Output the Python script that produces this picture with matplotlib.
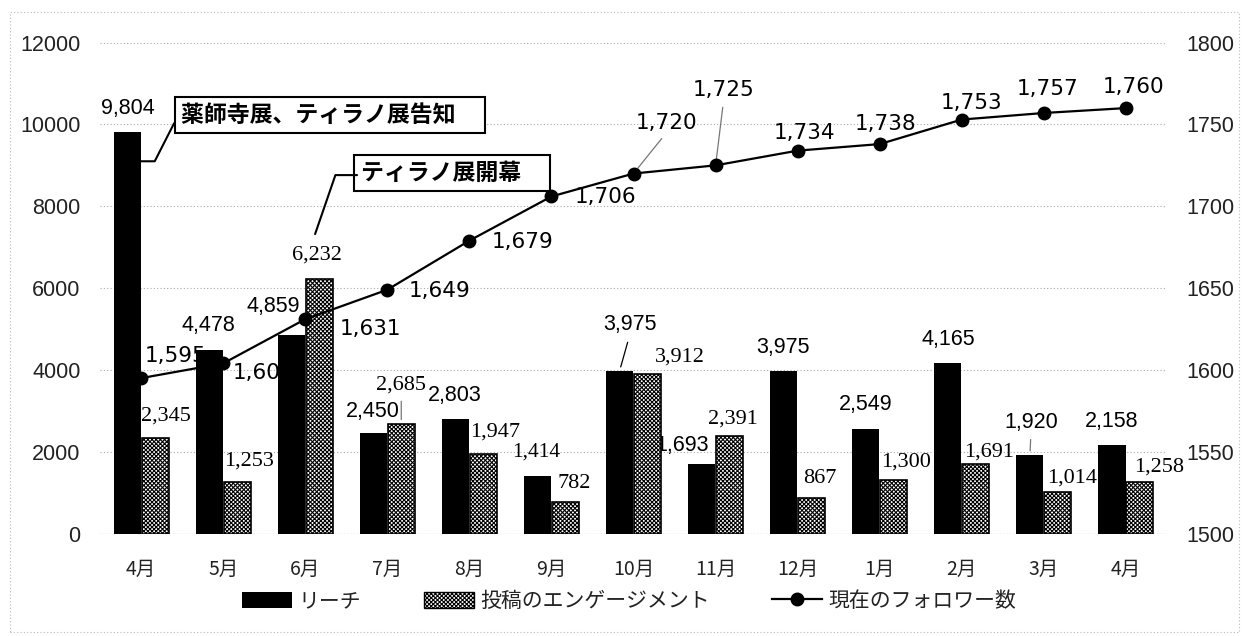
import numpy as np
import matplotlib
matplotlib.use('Agg')
import matplotlib.pyplot as plt
from matplotlib.patches import Patch, Rectangle
from matplotlib.lines import Line2D

plt.rcParams['font.family'] = ['Noto Sans CJK JP', 'DejaVu Sans']
plt.rcParams['hatch.linewidth'] = 0.8

# monthly figures (April to April)
months = ['4月', '5月', '6月', '7月', '8月', '9月', '10月', '11月', '12月',
          '1月', '2月', '3月', '4月']
reach = [9804, 4478, 4859, 2450, 2803, 1414, 3975, 1693, 3975, 2549, 4165, 1920, 2158]
engagement = [2345, 1253, 6232, 2685, 1947, 782, 3912, 2391, 867, 1300, 1691, 1014, 1258]
followers = [1595, 1604, 1631, 1649, 1679, 1706, 1720, 1725, 1734, 1738, 1753, 1757, 1760]

series_names = ['リーチ', '投稿のエンゲージメント', '現在のフォロワー数']
callouts = ['薬師寺展、ティラノ展告知\u3000', 'ティラノ展開幕\u3000']

# label offsets in pixels (dx, dy) from the top of each bar / each point
reach_off = [(1, 24), (-1, 25), (-18, 28), (-1, 22), (-1, 23), (-1, 24), (10, 46),
             (-20, 19), (-1, 23), (0, 25), (0, 24), (1, 33), (0, 24)]
eng_off = [(11, 22), (12, 21), (-2, 24), (0, 39), (12, 22), (9, 18), (32, 16),
           (3, 17), (8, 20), (12, 18), (13, 12), (14, 14), (19, 15)]
fol_off = [(34, 22), (40, -10), (65, -10), (52, -1), (53, -1), (54, -1), (33, 51),
           (8, 75), (7, 18), (6, 20), (10, 17), (4, 24), (8, 21)]
reach_leader = {6: 'black', 11: '#777777'}
eng_leader = {3: '#777777'}
fol_leader = {6: '#777777', 7: '#777777'}

HATCH = 'xxxxxxxx'
W = 0.33
SHIFT = 0.17

fig = plt.figure(figsize=(12.46, 6.36), dpi=100)
ax = fig.add_axes([0.0803, 0.161, 0.8563, 0.772])
ax2 = ax.twinx()

x = np.arange(len(months))
ax.bar(x - SHIFT, reach, W, color='black', zorder=2)
ax.bar(x + SHIFT, engagement, W, facecolor='white', edgecolor='black',
       hatch=HATCH, linewidth=1.2, zorder=2)
ax2.plot(x, followers, color='black', lw=1.6, marker='o', ms=9, zorder=3)

ax.set_xlim(-0.5, len(months) - 0.5)
ax.set_ylim(0, 12000)
ax2.set_ylim(1500, 1800)
ax.set_yticks(np.arange(0, 12001, 2000))
ax2.set_yticks(np.arange(1500, 1801, 50))
ax.set_xticks(x, months)

for a in (ax, ax2):
    for s in a.spines.values():
        s.set_visible(False)
ax.tick_params(axis='x', length=0, pad=18, labelsize=14, colors='#222222')
ax.tick_params(axis='y', length=0, pad=14, labelsize=15.5, colors='#222222',
               labelfontfamily='Liberation Sans')
ax2.tick_params(axis='y', length=0, pad=14, labelsize=15.5, colors='#222222',
                labelfontfamily='Liberation Sans')

ax.set_axisbelow(True)
ax.yaxis.grid(True, color='#aaaaaa', linestyle=(0, (1, 2)), lw=0.8)
ax.axhline(0, color='#999999', linestyle=(0, (1, 1.5)), lw=0.9, zorder=0.6)


def label(xv, yv, text, off, family, size, leader=None, xycoords='data'):
    arrow = None
    if leader:
        arrow = dict(arrowstyle='-', color=leader, lw=0.9,
                     relpos=(0.5, 0.0), shrinkA=3, shrinkB=3)
    ax.annotate(text, xy=(xv, yv), xycoords=xycoords, xytext=off,
                textcoords='offset pixels', ha='center', va='center',
                fontfamily=family, fontsize=size, color='black',
                arrowprops=arrow, zorder=1)


for i, v in enumerate(reach):
    fam = 'Liberation Serif' if i == 5 else 'Liberation Sans'
    label(i - SHIFT, v, f'{v:,}', reach_off[i], fam, 15.5, reach_leader.get(i))

for i, v in enumerate(engagement):
    label(i + SHIFT, v, f'{v:,}', eng_off[i], 'Liberation Serif', 16,
          eng_leader.get(i))

for i, v in enumerate(followers):
    label(i, v, f'{v:,}', fol_off[i], 'DejaVu Sans', 15.5, fol_leader.get(i),
          xycoords=ax2.transData)

# event callouts
box = dict(boxstyle='square,pad=0.28', facecolor='white', edgecolor='black', lw=1.5)
ax2.annotate(callouts[0], xy=(0.0, 9100), xycoords=ax.transData, xytext=(189, 46),
             textcoords='offset pixels', ha='center', va='center', fontsize=16.5,
             fontweight='bold', bbox=box, zorder=5)
ax2.annotate('', xy=(0.0, 9100), xycoords=ax.transData, xytext=(33, 38),
             textcoords='offset pixels', zorder=5,
             arrowprops=dict(arrowstyle='-', lw=1.5, color='black', shrinkA=0,
                             shrinkB=0, connectionstyle='angle,angleA=63,angleB=0'))
ax2.annotate(callouts[1], xy=(2.12, 7320), xycoords=ax.transData, xytext=(137, 61),
             textcoords='offset pixels', ha='center', va='center', fontsize=16.5,
             fontweight='bold', bbox=box, zorder=5)
ax2.annotate('', xy=(2.12, 7320), xycoords=ax.transData, xytext=(42, 59),
             textcoords='offset pixels', zorder=5,
             arrowprops=dict(arrowstyle='-', lw=1.5, color='black', shrinkA=0,
                             shrinkB=0, connectionstyle='angle,angleA=0,angleB=71'))

handles = [
    Patch(facecolor='black'),
    Patch(facecolor='white', edgecolor='black', hatch=HATCH, linewidth=1.0),
    Line2D([], [], color='black', lw=1.6, marker='o', ms=9),
]
fig.legend(handles, series_names, loc='center', bbox_to_anchor=(0.505, 0.055),
           ncol=3, frameon=False, fontsize=15, handlelength=2.4, handleheight=0.8,
           handletextpad=0.3, columnspacing=3.0, labelcolor='#222222')

fig.patches.append(Rectangle((0.008, 0.006), 0.986, 0.975, transform=fig.transFigure,
                             fill=False, edgecolor='#bbbbbb', lw=0.8,
                             linestyle=(0, (1, 2))))

fig.savefig('out.png', dpi=100)
